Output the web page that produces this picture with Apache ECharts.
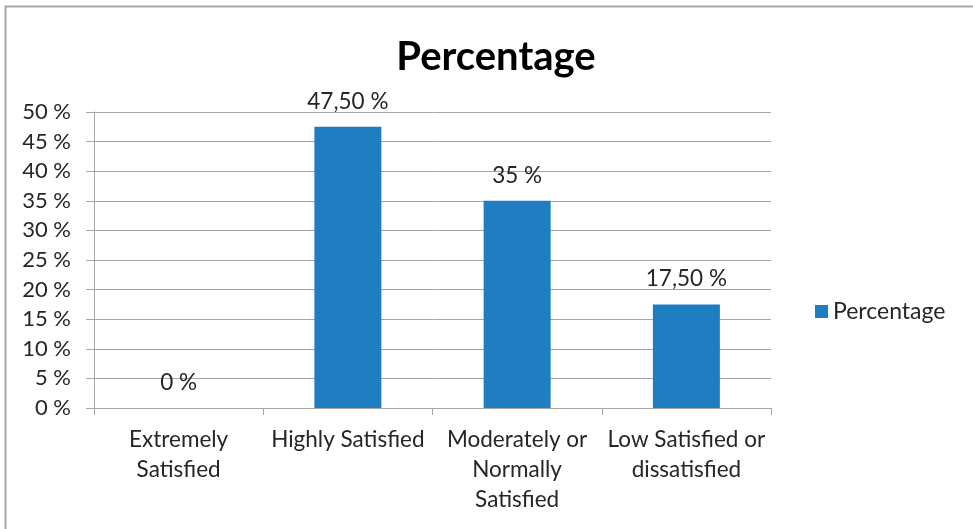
<!DOCTYPE html>
<html>
<head>
<meta charset="utf-8">
<script src="https://cdn.jsdelivr.net/npm/echarts@6/dist/echarts.min.js"></script>
<style>
  html, body { margin: 0; padding: 0; background: #fff; }
  #chart { width: 973px; height: 529px; }
</style>
</head>
<body>
<div id="chart"></div>
<script>
// Satisfaction levels and their share of respondents (%)
const categories = [
  'Extremely\nSatisfied',
  'Highly Satisfied',
  'Moderately or\nNormally\nSatisfied',
  'Low Satisfied or\ndissatisfied'
];
const percentages = [0, 47.5, 35, 17.5];
const seriesName = 'Percentage';

const FONT = 'Lato, "Open Sans", sans-serif';
const TEXT = '#262626';
const GRID = '#a6a6a6';

function pctLabel(v) {
  return (Number.isInteger(v) ? String(v) : v.toFixed(2).replace('.', ',')) + ' %';
}

const chart = echarts.init(document.getElementById('chart'));
chart.setOption({
  animation: false,
  backgroundColor: '#fff',
  graphic: [{
    type: 'rect',
    shape: { x: 5.5, y: 6.5, width: 1000, height: 600 },
    style: { fill: 'none', stroke: '#a6a6a6', lineWidth: 2 },
    silent: true
  }],
  title: {
    text: seriesName,
    left: 491,
    textAlign: 'center',
    top: 32,
    textStyle: { fontFamily: FONT, fontWeight: 'bold', fontSize: 40, color: '#000' }
  },
  legend: {
    data: [seriesName],
    left: 810,
    top: 295,
    itemWidth: 13,
    itemHeight: 13,
    icon: 'rect',
    itemGap: 8,
    textStyle: { fontFamily: FONT, fontSize: 23, color: TEXT }
  },
  grid: { left: 94, right: 202, top: 112, bottom: 121, containLabel: false },
  xAxis: {
    type: 'category',
    data: categories,
    axisLine: { lineStyle: { color: GRID, width: 1 } },
    axisTick: { show: true, length: 7, alignWithLabel: false, lineStyle: { color: GRID } },
    axisLabel: {
      interval: 0,
      margin: 17,
      fontFamily: FONT,
      fontSize: 22.5,
      lineHeight: 30,
      color: TEXT
    }
  },
  yAxis: {
    type: 'value',
    min: 0,
    max: 50,
    interval: 5,
    axisLine: { show: true, lineStyle: { color: GRID } },
    axisTick: { show: true, length: 8, lineStyle: { color: GRID } },
    splitLine: { lineStyle: { color: GRID, width: 1 } },
    axisLabel: {
      margin: 23,
      fontFamily: FONT,
      fontSize: 22,
      color: TEXT,
      formatter: v => v + ' %'
    }
  },
  series: [{
    name: seriesName,
    type: 'bar',
    data: percentages,
    barWidth: 67,
    itemStyle: { color: '#1f7ec2' },
    label: {
      show: true,
      position: 'top',
      distance: 14,
      fontFamily: FONT,
      fontSize: 22.5,
      color: TEXT,
      formatter: p => pctLabel(p.value)
    }
  }]
});
</script>
</body>
</html>
